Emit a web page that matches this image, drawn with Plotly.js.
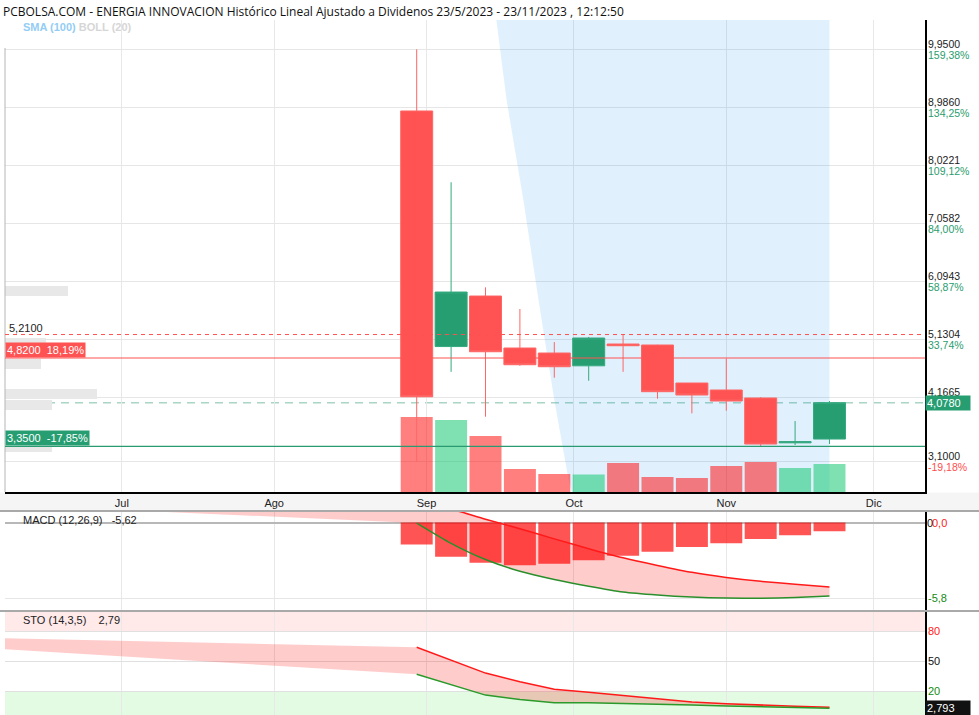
<!DOCTYPE html>
<html><head><meta charset="utf-8">
<script src="https://cdn.plot.ly/plotly-3.0.1.min.js"></script>
<style>html,body{margin:0;padding:0;background:#fff;}#chart{width:979px;height:715px;}</style>
</head><body><div id="chart"></div>
<script>
// ---------- DATA ----------
const weeks = ['2023-08-30','2023-09-06','2023-09-13','2023-09-20','2023-09-27','2023-10-04','2023-10-11','2023-10-18','2023-10-25','2023-11-01','2023-11-08','2023-11-15','2023-11-22'];
const openP  = [8.925, 5.010, 5.850, 4.986, 4.903, 4.690, 5.052, 5.036, 4.404, 4.288, 4.155, 3.410, 3.473];
const highP  = [9.950, 7.740, 5.994, 5.634, 5.085, 5.170, 5.210, 5.040, 4.404, 4.810, 4.170, 3.772, 4.105];
const lowP   = [3.100, 4.590, 3.844, 4.690, 4.492, 4.442, 4.590, 4.143, 3.900, 3.944, 3.350, 3.374, 3.390];
const closeP = [4.176, 5.916, 4.924, 4.708, 4.675, 5.152, 5.024, 4.260, 4.205, 4.105, 3.390, 3.430, 4.078];
const volume = [750000, 720000, 560000, 230000, 180000, 175000, 290000, 150000, 140000, 260000, 300000, 240000, 280000];

const macdLine   = [-0.04, -1.59, -2.83, -3.73, -4.36, -4.88, -5.32, -5.55, -5.70, -5.78, -5.80, -5.74, -5.62];
const signalLine = [1.64, 1.03, 0.25, -0.47, -1.25, -2.00, -2.70, -3.28, -3.81, -4.20, -4.50, -4.72, -4.93];
const macdHist   = [-1.68, -2.62, -3.08, -3.26, -3.16, -2.88, -2.55, -2.24, -1.88, -1.58, -1.27, -0.97, -0.66];
const stoK = [63.7, 50.6, 37.9, 29.2, 21.7, 18.7, 15.5, 12.3, 9.1, 7.3, 5.7, 4.7, 3.7];
const stoD = [36.7, 26.2, 15.9, 11.6, 8.3, 8.3, 7.7, 7.0, 6.0, 5.0, 4.1, 3.0, 2.79];

// values at the start of the history (only the shaded fills reach back there)
const preDate = '2023-05-23';
const preMacd = 1.60, preSignal = 2.60, preK = 74.4, preD = 66.3;

// SMA(100)/BOLL(20) shaded band outline
const shadeX = ['2023-09-13','2023-09-15 05:00','2023-09-17 07:00','2023-09-20 17:00','2023-09-23 19:00','2023-09-27 00:00','2023-09-29 22:00','2023-09-30 12:00','2023-10-02','2023-11-22','2023-11-22','2023-09-13'];
const shadeY = [11.7, 10.44, 9.107, 7.445, 5.783, 4.121, 2.792, 2.61, 1.9, 1.9, 12, 12];

const monthTicks  = ['2023-07-01','2023-08-01','2023-09-01','2023-10-01','2023-11-01','2023-12-01'];
const monthLabels = ['Jul','Ago','Sep','Oct','Nov','Dic'];
const priceTicks  = [3.1, 4.1665, 5.1304, 6.0943, 7.0582, 8.0221, 8.986, 9.95];
const priceText   = ['3,1000','4,1665','5,1304','6,0943','7,0582','8,0221','8,9860','9,9500'];
const pctText     = ['-19,18%','8,61%','33,74%','58,87%','84,00%','109,12%','134,25%','159,38%'];

const lastPrice = 4.078, lastText = '4,0780';
const maxLevel = 5.21, maxText = '5,2100';
const resLevel = 4.82, resText = '4,8200\u00a0\u00a018,19%';
const supLevel = 3.35, supText = '3,3500\u00a0\u00a0-17,85%';
const macdTitle = 'MACD (12,26,9)\u00a0\u00a0\u00a0-5,62';
const stoTitle = 'STO (14,3,5)\u00a0\u00a0\u00a0\u00a02,79';
const stoLast = 2.79, stoLastText = '2,793';

// ---------- GEOMETRY ----------
const W = 979, H = 715, L = 5, R = 54, T = 20, B = 0;
const pw = W - L - R, ph = H - T - B;
const px2x = p => (p - L) / pw;
const py2y = p => 1 - (p - T) / ph;

const GREEN = '#269e72', RED = '#ff5252';
const FONT = 'Liberation Sans, Arial, sans-serif';
const upDown = closeP.map((c, i) => c >= openP[i]);

const traces = [
  { type: 'scatter', x: shadeX, y: shadeY, xaxis: 'x', yaxis: 'y', mode: 'lines', fill: 'toself',
    fillcolor: 'rgba(0,130,230,0.12)', line: { width: 0 }, hoverinfo: 'skip' },
  { type: 'bar', x: weeks, y: volume, xaxis: 'x', yaxis: 'y2',
    marker: { color: upDown.map(u => u ? 'rgba(0,195,100,0.5)' : 'rgba(255,0,0,0.5)'), line: { width: 0 } }, hoverinfo: 'skip' },
  { type: 'candlestick', x: weeks, open: openP, high: highP, low: lowP, close: closeP, xaxis: 'x', yaxis: 'y3',
    increasing: { line: { color: '#35a97f', width: 1 }, fillcolor: GREEN },
    decreasing: { line: { color: '#ff6666', width: 1 }, fillcolor: RED }, hoverinfo: 'skip' },
  // MACD
  { type: 'scatter', x: [preDate].concat(weeks), y: [preSignal].concat(signalLine), xaxis: 'x2', yaxis: 'y4',
    mode: 'lines', line: { width: 0 }, hoverinfo: 'skip' },
  { type: 'scatter', x: [preDate].concat(weeks), y: [preMacd].concat(macdLine), xaxis: 'x2', yaxis: 'y4',
    mode: 'lines', line: { width: 0 }, fill: 'tonexty', fillcolor: 'rgba(255,0,0,0.2)', hoverinfo: 'skip' },
  { type: 'bar', x: weeks, y: macdHist, xaxis: 'x2', yaxis: 'y4', marker: { color: 'rgba(255,0,0,0.67)', line: { width: 0 } }, hoverinfo: 'skip' },
  { type: 'scatter', x: weeks, y: signalLine, xaxis: 'x2', yaxis: 'y4', mode: 'lines', line: { color: '#ff1a1a', width: 1.5, shape: 'spline', smoothing: 0.6 }, hoverinfo: 'skip' },
  { type: 'scatter', x: weeks, y: macdLine, xaxis: 'x2', yaxis: 'y4', mode: 'lines', line: { color: '#2a8f2a', width: 1.5, shape: 'spline', smoothing: 0.6 }, hoverinfo: 'skip' },
  // STO
  { type: 'scatter', x: [preDate].concat(weeks), y: [preK].concat(stoK), xaxis: 'x3', yaxis: 'y5',
    mode: 'lines', line: { width: 0 }, hoverinfo: 'skip' },
  { type: 'scatter', x: [preDate].concat(weeks), y: [preD].concat(stoD), xaxis: 'x3', yaxis: 'y5',
    mode: 'lines', line: { width: 0 }, fill: 'tonexty', fillcolor: 'rgba(255,0,0,0.2)', hoverinfo: 'skip' },
  { type: 'scatter', x: weeks, y: stoK, xaxis: 'x3', yaxis: 'y5', mode: 'lines', line: { color: '#ff1a1a', width: 1.5 }, hoverinfo: 'skip' },
  { type: 'scatter', x: weeks, y: stoD, xaxis: 'x3', yaxis: 'y5', mode: 'lines', line: { color: '#2a9a2a', width: 1.5 }, hoverinfo: 'skip' }
];

const xRange = ['2023-06-07 05:15', '2023-12-11 10:30'];
const gridC = '#e8e8e8';
const commonX = { type: 'date', range: xRange, tickvals: monthTicks, ticktext: monthLabels, showgrid: true, gridcolor: gridC,
  ticks: '', zeroline: false, fixedrange: true };

const ann = [];
const a = o => ann.push(Object.assign({ showarrow: false, font: { family: FONT, size: 11, color: '#222' } }, o));
a({ xref: 'paper', yref: 'paper', x: px2x(1), y: py2y(12), xanchor: 'left', yanchor: 'middle',
    text: 'PCBOLSA.COM - ENERGIA INNOVACION Histórico Lineal Ajustado a Dividenos 23/5/2023 - 23/11/2023 , 12:12:50',
    font: { family: 'Open Sans, sans-serif', size: 12, color: '#111' } });
a({ xref: 'paper', yref: 'paper', x: px2x(21), y: py2y(27), xanchor: 'left', yanchor: 'middle',
    text: '<b><span style="color:#93cdf5">SMA (100)</span> <span style="color:#d6d6d6">BOLL (20)</span></b>' });
priceTicks.forEach((v, i) => {
  a({ xref: 'paper', yref: 'y', x: 1, y: v, xanchor: 'left', yanchor: 'middle', xshift: 2, yshift: 5.8, text: priceText[i],
      borderpad: 0, font: { family: FONT, size: 10.5, color: '#222' } });
  // the percentage under the last-price box is hidden in the original
  if (Math.abs(v - lastPrice) > 0.15) {
    a({ xref: 'paper', yref: 'y', x: 1, y: v, xanchor: 'left', yanchor: 'middle', xshift: 2, yshift: -5.8, text: pctText[i],
        borderpad: 0, font: { family: FONT, size: 10.5, color: pctText[i].startsWith('-') ? '#ff4d4d' : '#2a9d6e' } });
  }
});
a({ xref: 'paper', yref: 'y', x: 1, y: lastPrice, xanchor: 'left', yanchor: 'middle', text: lastText, bgcolor: GREEN,
    width: 42, align: 'left', borderpad: 1, font: { family: FONT, size: 11, color: '#fff' } });
a({ xref: 'paper', yref: 'y', x: px2x(7), y: maxLevel, xanchor: 'left', yanchor: 'bottom', text: maxText, yshift: -1 });
a({ xref: 'paper', yref: 'y', x: 0, y: resLevel, xanchor: 'left', yanchor: 'bottom', text: resText, bgcolor: RED,
    borderpad: 1, font: { family: FONT, size: 11, color: '#fff' } });
a({ xref: 'paper', yref: 'y', x: 0, y: supLevel, xanchor: 'left', yanchor: 'bottom', text: supText, bgcolor: GREEN,
    borderpad: 1, font: { family: FONT, size: 11, color: '#fff' } });
// MACD labels
a({ xref: 'paper', yref: 'paper', x: px2x(21), y: py2y(520), xanchor: 'left', yanchor: 'middle', text: macdTitle });
a({ xref: 'paper', yref: 'y4', x: 1, y: 0, xanchor: 'left', yanchor: 'middle', xshift: 0, text: '0', font: { family: FONT, size: 11, color: '#111' } });
a({ xref: 'paper', yref: 'y4', x: 1, y: 0, xanchor: 'left', yanchor: 'middle', xshift: 5, text: '0,0', font: { family: FONT, size: 11, color: '#ff2020' } });
a({ xref: 'paper', yref: 'y4', x: 1, y: -5.8, xanchor: 'left', yanchor: 'middle', xshift: 1, text: '-5,8', font: { family: FONT, size: 11, color: '#138a13' } });
// STO labels
a({ xref: 'paper', yref: 'paper', x: px2x(21), y: py2y(620), xanchor: 'left', yanchor: 'middle', text: stoTitle });
a({ xref: 'paper', yref: 'y5', x: 1, y: 80, xanchor: 'left', yanchor: 'middle', xshift: 1, text: '80', font: { family: FONT, size: 11, color: '#ff2020' } });
a({ xref: 'paper', yref: 'y5', x: 1, y: 50, xanchor: 'left', yanchor: 'middle', xshift: 1, text: '50', font: { family: FONT, size: 11, color: '#111' } });
a({ xref: 'paper', yref: 'y5', x: 1, y: 20, xanchor: 'left', yanchor: 'middle', xshift: 1, text: '20', font: { family: FONT, size: 11, color: '#138a13' } });
a({ xref: 'paper', yref: 'y5', x: 1, y: stoLast, xanchor: 'left', yanchor: 'middle', text: stoLastText, bgcolor: '#111',
    width: 42, align: 'left', borderpad: 1, font: { family: FONT, size: 11, color: '#fff' } });

const shapes = [];
const rectPx = (x0, y0, x1, y1, color, layer) => shapes.push({ type: 'rect', xref: 'paper', yref: 'paper',
  x0: px2x(x0), x1: px2x(x1), y0: py2y(y1), y1: py2y(y0), fillcolor: color, line: { width: 0 }, layer: layer || 'below' });
// axis strip and separators
rectPx(0, 492.5, 979, 510, '#f5f5f5');
[[5, 286, 68, 296], [5, 338, 46, 344], [5, 359, 41, 369], [5, 389, 97, 399], [5, 400, 52, 410], [5, 447, 52, 452]]
  .forEach(r => rectPx(r[0], r[1], r[2], r[3], '#e8e8e8', 'above'));
[511, 611].forEach(p => shapes.push({ type: 'line', xref: 'paper', yref: 'paper', x0: px2x(0), x1: px2x(979), y0: py2y(p), y1: py2y(p),
  line: { color: '#a9a9a9', width: 2 }, layer: 'above' }));
shapes.push({ type: 'line', xref: 'paper', yref: 'paper', x0: 0, x1: 0, y0: py2y(492), y1: py2y(48), line: { color: '#b5b5b5', width: 1 } });
// STO zones
shapes.push({ type: 'rect', xref: 'paper', yref: 'y5', x0: 0, x1: 1, y0: 80, y1: 100, fillcolor: '#ffe9e9', line: { width: 0 }, layer: 'below' });
shapes.push({ type: 'rect', xref: 'paper', yref: 'y5', x0: 0, x1: 1, y0: -4, y1: 20, fillcolor: '#e2fbe2', line: { width: 0 }, layer: 'below' });
// price levels
shapes.push({ type: 'line', xref: 'paper', yref: 'y', x0: 0, x1: 1, y0: maxLevel, y1: maxLevel, line: { color: '#ff5252', width: 1, dash: '4px,4px' }, layer: 'above' });
shapes.push({ type: 'line', xref: 'paper', yref: 'y', x0: 0, x1: 1, y0: lastPrice, y1: lastPrice, line: { color: '#a9d6c4', width: 1.5, dash: '8px,6px' }, layer: 'below' });
shapes.push({ type: 'line', xref: 'paper', yref: 'y', x0: 0, x1: 1, y0: resLevel, y1: resLevel, line: { color: '#ff5252', width: 1.2 }, layer: 'above' });
shapes.push({ type: 'line', xref: 'paper', yref: 'y', x0: 0, x1: 1, y0: supLevel, y1: supLevel, line: { color: '#2a9a70', width: 1.2 }, layer: 'above' });

const mainDom = [py2y(492), 1];
const layout = {
  width: W, height: H, margin: { l: L, r: R, t: T, b: B, pad: 0 },
  paper_bgcolor: '#fff', plot_bgcolor: '#fff', showlegend: false, hovermode: false,
  bargap: 0.07, boxgap: 0.07, boxgroupgap: 0,
  xaxis: Object.assign({}, commonX, { anchor: 'y', showline: true, linecolor: '#000', linewidth: 1.5,
    rangeslider: { visible: false }, tickfont: { family: FONT, size: 11, color: '#222' } }),
  xaxis2: Object.assign({}, commonX, { anchor: 'y4', matches: 'x', showticklabels: false, showline: false }),
  xaxis3: Object.assign({}, commonX, { anchor: 'y5', matches: 'x', showticklabels: false, showline: false }),
  yaxis: { domain: mainDom, range: [2.593, 10.437], side: 'right', anchor: 'x', tickvals: priceTicks, showticklabels: false,
    gridcolor: '#e6e6e6', showline: true, linecolor: '#000', linewidth: 1.5, ticks: '', zeroline: false, fixedrange: true },
  yaxis2: { overlaying: 'y', range: [0, 4720000], visible: false, showgrid: false, fixedrange: true },
  yaxis3: { overlaying: 'y', range: [2.593, 10.437], visible: false, showgrid: false, fixedrange: true },
  yaxis4: { domain: [py2y(610), py2y(511)], range: [-6.69, 0.88], side: 'right', anchor: 'x2', tickvals: [-5.8], showticklabels: false,
    gridcolor: '#e6e6e6', zeroline: true, zerolinecolor: '#b8b8b8', zerolinewidth: 2, showline: true, linecolor: '#000', linewidth: 1.5, ticks: '', fixedrange: true },
  yaxis5: { domain: [0, py2y(611)], range: [-4, 100], side: 'right', anchor: 'x3', tickvals: [20, 50, 80], showticklabels: false,
    gridcolor: '#e0e0e0', zeroline: false, showline: true, linecolor: '#000', linewidth: 1.5, ticks: '', fixedrange: true },
  annotations: ann, shapes: shapes
};

Plotly.newPlot('chart', traces, layout, { staticPlot: true, displayModeBar: false });
</script></body></html>
